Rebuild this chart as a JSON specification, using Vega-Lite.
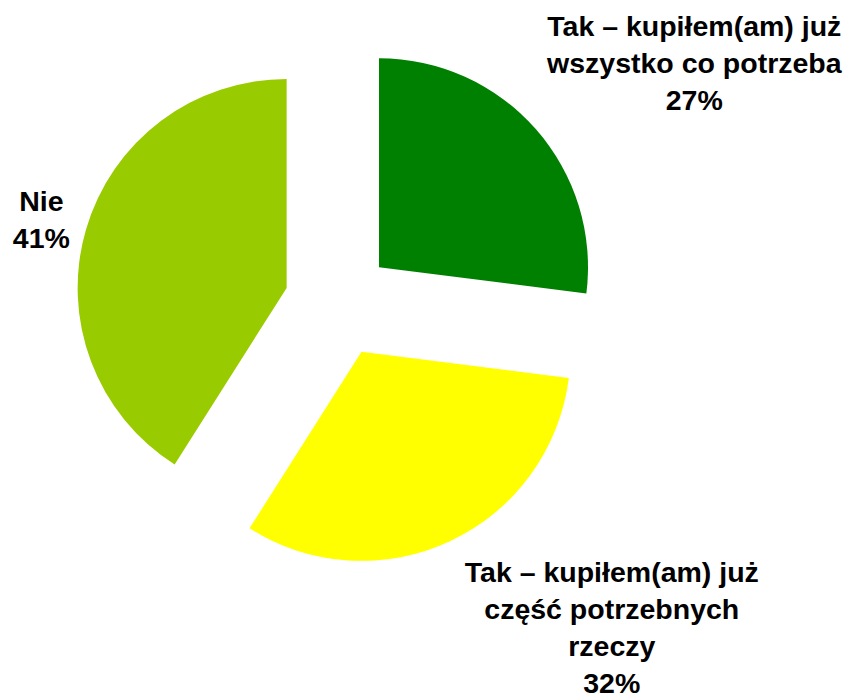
{
  "$schema": "https://vega.github.io/schema/vega-lite/v6.json",
  "width": 852,
  "height": 696,
  "autosize": "none",
  "padding": 0,
  "background": "white",
  "config": {"view": {"stroke": null}},
  "data": {
    "values": [
      {"category": "Tak – kupiłem(am) już\nwszystko co potrzeba", "pct": 27, "order": 1},
      {"category": "Tak – kupiłem(am) już\nczęść potrzebnych\nrzeczy", "pct": 32, "order": 2},
      {"category": "Nie", "pct": 41, "order": 3}
    ]
  },
  "transform": [
    {"stack": "pct", "groupby": [], "sort": [{"field": "order"}], "as": ["start", "end"]},
    {"calculate": "(datum.start + datum.end) / 2", "as": "mid"},
    {"calculate": "datum.mid / 100 * 2 * PI", "as": "ang"},
    {"calculate": "54 * sin(datum.ang)", "as": "dx"},
    {"calculate": "54 * cos(datum.ang)", "as": "dy"},
    {"calculate": "datum.category + '\\n' + datum.pct + '%'", "as": "labelText"}
  ],
  "encoding": {
    "x": {"field": "dx", "type": "quantitative", "axis": null, "scale": {"domain": [-338.5, 513.5], "nice": false, "zero": false}},
    "y": {"field": "dy", "type": "quantitative", "axis": null, "scale": {"domain": [-393, 303], "nice": false, "zero": false}}
  },
  "layer": [
    {
      "mark": {"type": "arc", "outerRadius": 209, "strokeWidth": 0},
      "encoding": {
        "theta": {"field": "start", "type": "quantitative", "scale": {"domain": [0, 100], "range": [0, 6.283185307179586]}},
        "theta2": {"field": "end"},
        "color": {"field": "category", "type": "nominal", "legend": null,
          "scale": {"domain": ["Tak – kupiłem(am) już\nwszystko co potrzeba", "Tak – kupiłem(am) już\nczęść potrzebnych\nrzeczy", "Nie"], "range": ["#008000", "#FFFF00", "#99CC00"]}}
      }
    },
    {
      "transform": [{"filter": "datum.order == 1"}],
      "mark": {"type": "text", "radius": 307, "dx": 85, "dy": -37, "font": "Liberation Sans", "fontWeight": "bold", "fontSize": 28.5, "lineHeight": 37, "lineBreak": "\n", "align": "center", "baseline": "middle", "color": "black"},
      "encoding": {
        "theta": {"field": "mid", "type": "quantitative"},
        "text": {"field": "labelText"}
      }
    },
    {
      "transform": [{"filter": "datum.order == 2"}],
      "mark": {"type": "text", "radius": 306, "dx": 120, "dy": -56, "font": "Liberation Sans", "fontWeight": "bold", "fontSize": 28.5, "lineHeight": 37, "lineBreak": "\n", "align": "center", "baseline": "middle", "color": "black"},
      "encoding": {
        "theta": {"field": "mid", "type": "quantitative"},
        "text": {"field": "labelText"}
      }
    },
    {
      "transform": [{"filter": "datum.order == 3"}],
      "mark": {"type": "text", "radius": 244, "dx": -11, "dy": -18, "font": "Liberation Sans", "fontWeight": "bold", "fontSize": 28.5, "lineHeight": 37, "lineBreak": "\n", "align": "center", "baseline": "middle", "color": "black"},
      "encoding": {
        "theta": {"field": "mid", "type": "quantitative"},
        "text": {"field": "labelText"}
      }
    }
  ]
}
